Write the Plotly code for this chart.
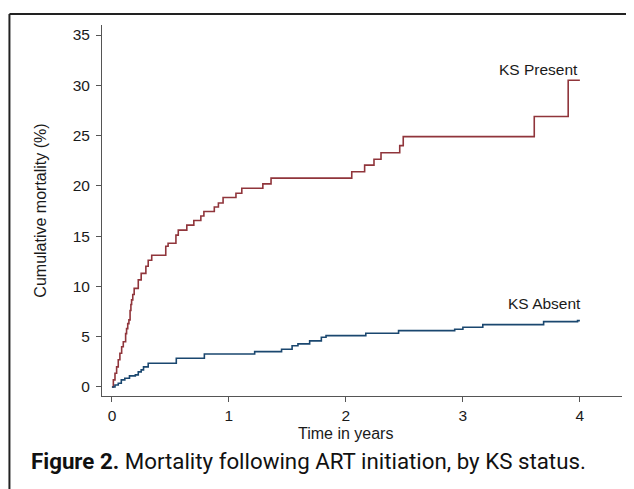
import plotly.graph_objects as go

# KS Present (cumulative mortality %, step function)
ks_present_t = [0, 0.012, 0.026, 0.04, 0.054, 0.068, 0.083, 0.097, 0.117, 0.125, 0.135, 0.145,
                0.155, 0.162, 0.168, 0.178, 0.19, 0.225, 0.25, 0.29, 0.31, 0.34, 0.46, 0.48,
                0.547, 0.567, 0.64, 0.70, 0.76, 0.786, 0.875, 0.91, 0.95, 1.06, 1.11, 1.29,
                1.36, 2.05, 2.16, 2.24, 2.30, 2.46, 2.49, 3.61, 3.90, 4.0]
ks_present_v = [0, 0.7, 1.36, 2.0, 2.7, 3.35, 4.0, 4.5, 5.3, 5.8, 6.3, 6.67,
                7.6, 8.2, 8.66, 9.2, 9.8, 10.65, 11.3, 12.0, 12.6, 13.1, 14.0, 14.3,
                15.1, 15.6, 16.1, 16.55, 17.0, 17.45, 17.9, 18.3, 18.85, 19.27, 19.77, 20.2,
                20.77, 21.4, 22.06, 22.65, 23.3, 24.0, 24.9, 26.9, 30.5, 30.5]

# KS Absent
ks_absent_t = [0, 0.026, 0.054, 0.08, 0.11, 0.15, 0.2, 0.225, 0.25, 0.27, 0.31, 0.55, 0.79,
               1.22, 1.45, 1.54, 1.59, 1.69, 1.79, 1.83, 2.17, 2.45, 2.93, 3.0, 3.17, 3.69,
               3.98, 4.0]
ks_absent_v = [0, 0.2, 0.37, 0.7, 0.87, 1.1, 1.2, 1.5, 1.7, 2.0, 2.36, 2.85, 3.28,
               3.51, 3.75, 4.1, 4.28, 4.58, 4.94, 5.1, 5.34, 5.6, 5.74, 5.94, 6.2, 6.5,
               6.6, 6.6]

x_ticks = [0, 1, 2, 3, 4]
y_ticks = [0, 5, 10, 15, 20, 25, 30, 35]

RED = "#90353b"
BLUE = "#1a476f"
AX = "#555555"
TXT = "#1a1a1a"
FONT = "Liberation Sans, Arial, sans-serif"

fig = go.Figure()
fig.add_trace(go.Scatter(x=ks_present_t, y=ks_present_v, mode="lines",
                         line=dict(color=RED, width=1.6, shape="hv"), name="KS Present",
                         showlegend=False))
fig.add_trace(go.Scatter(x=ks_absent_t, y=ks_absent_v, mode="lines",
                         line=dict(color=BLUE, width=1.6, shape="hv"), name="KS Absent",
                         showlegend=False))

fig.add_annotation(x=4.0, y=31.55, xref="x", yref="y", text="KS Present", showarrow=False,
                   xanchor="right", yanchor="middle", font=dict(size=15.5, color=TXT, family=FONT))
fig.add_annotation(x=4.03, y=8.33, xref="x", yref="y", text="KS Absent", showarrow=False,
                   xanchor="right", yanchor="middle", font=dict(size=15.5, color=TXT, family=FONT))

# x-axis title, centred on the data span
fig.add_annotation(x=2, y=-0.1, xref="x", yref="paper", text="Time in years", showarrow=False,
                   xanchor="center", yanchor="middle", font=dict(size=16, color=TXT, family=FONT))

fig.add_annotation(x=-0.1404, y=-0.174, xref="paper", yref="paper",
                   text="<b>Figure 2.</b> Mortality following ART initiation, by KS status.",
                   showarrow=False, xanchor="left", yanchor="middle",
                   font=dict(size=22.3, color="#111111", family="Roboto, sans-serif"))

# frame (top and left edges)
fig.add_shape(type="line", xref="paper", yref="paper", x0=-0.178, x1=1.05, y0=1.0296, y1=1.0296,
              line=dict(color="#222222", width=2))
fig.add_shape(type="line", xref="paper", yref="paper", x0=-0.178, x1=-0.178, y0=-0.3, y1=1.0296,
              line=dict(color="#222222", width=2))

fig.update_layout(
    width=626, height=481,
    margin=dict(l=94, r=12, t=17, b=93),
    paper_bgcolor="white", plot_bgcolor="white",
    font=dict(family=FONT, color=TXT, size=15.5),
    showlegend=False,
    xaxis=dict(range=[-0.085, 4.36], tickvals=x_ticks, ticktext=[str(v) for v in x_ticks],
               showgrid=False, zeroline=False, showline=True, linecolor=AX, linewidth=1,
               ticks="outside", ticklen=5, tickcolor=AX, tickfont=dict(size=15.5, color=TXT)),
    yaxis=dict(range=[-0.9, 36.0], tickvals=y_ticks, ticktext=[str(v) for v in y_ticks],
               showgrid=False, zeroline=False, showline=True, linecolor=AX, linewidth=1,
               ticks="outside", ticklen=5, tickcolor=AX, tickfont=dict(size=15.5, color=TXT),
               ticklabelstandoff=3,
               title=dict(text="Cumulative mortality (%)", font=dict(size=16, color=TXT), standoff=22)),
)

fig.write_html("out.html")
